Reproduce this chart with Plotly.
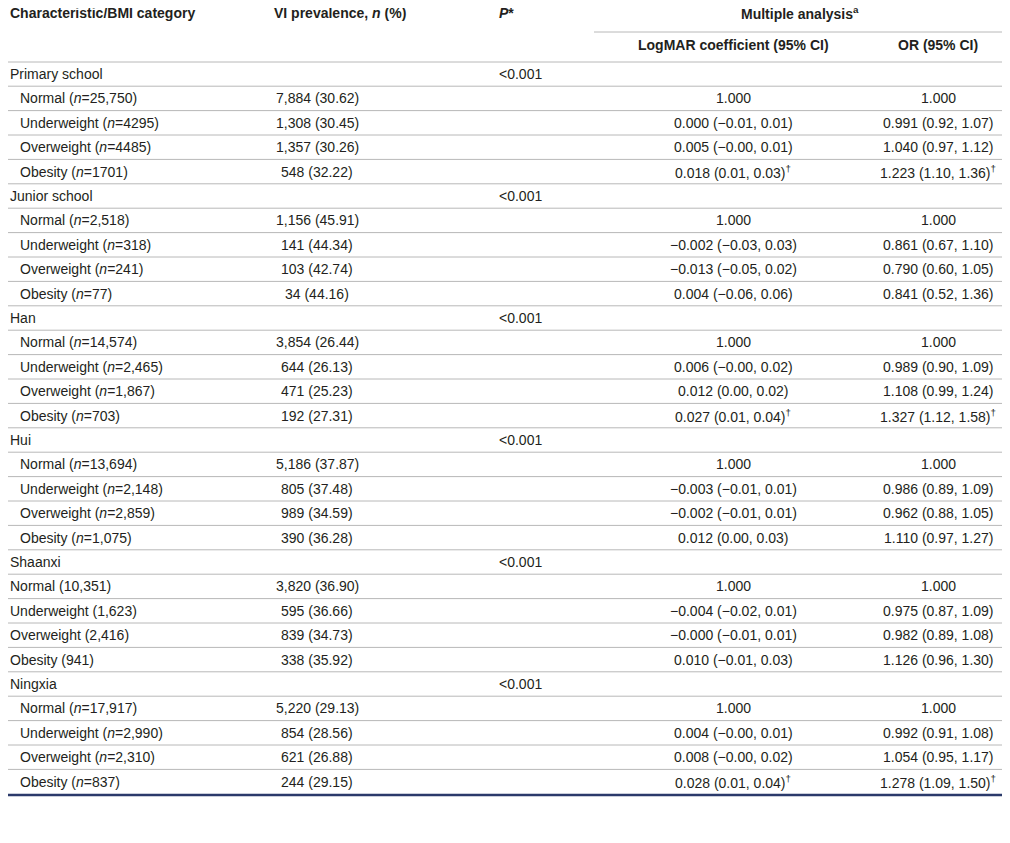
import plotly.graph_objects as go

font_name = "Liberation Sans Narrow, Arial Narrow, sans-serif"
rows = []

groups = [
    ("Primary school", [
        ("Normal (<i>n</i>=25,750)", "7,884 (30.62)", "1.000", "1.000"),
        ("Underweight (<i>n</i>=4295)", "1,308 (30.45)", "0.000 (−0.01, 0.01)", "0.991 (0.92, 1.07)"),
        ("Overweight (<i>n</i>=4485)", "1,357 (30.26)", "0.005 (−0.00, 0.01)", "1.040 (0.97, 1.12)"),
        ("Obesity (<i>n</i>=1701)", "548 (32.22)", "0.018 (0.01, 0.03)<sup>†</sup>", "1.223 (1.10, 1.36)<sup>†</sup>"),
    ]),
    ("Junior school", [
        ("Normal (<i>n</i>=2,518)", "1,156 (45.91)", "1.000", "1.000"),
        ("Underweight (<i>n</i>=318)", "141 (44.34)", "−0.002 (−0.03, 0.03)", "0.861 (0.67, 1.10)"),
        ("Overweight (<i>n</i>=241)", "103 (42.74)", "−0.013 (−0.05, 0.02)", "0.790 (0.60, 1.05)"),
        ("Obesity (<i>n</i>=77)", "34 (44.16)", "0.004 (−0.06, 0.06)", "0.841 (0.52, 1.36)"),
    ]),
    ("Han", [
        ("Normal (<i>n</i>=14,574)", "3,854 (26.44)", "1.000", "1.000"),
        ("Underweight (<i>n</i>=2,465)", "644 (26.13)", "0.006 (−0.00, 0.02)", "0.989 (0.90, 1.09)"),
        ("Overweight (<i>n</i>=1,867)", "471 (25.23)", "0.012 (0.00, 0.02)", "1.108 (0.99, 1.24)"),
        ("Obesity (<i>n</i>=703)", "192 (27.31)", "0.027 (0.01, 0.04)<sup>†</sup>", "1.327 (1.12, 1.58)<sup>†</sup>"),
    ]),
    ("Hui", [
        ("Normal (<i>n</i>=13,694)", "5,186 (37.87)", "1.000", "1.000"),
        ("Underweight (<i>n</i>=2,148)", "805 (37.48)", "−0.003 (−0.01, 0.01)", "0.986 (0.89, 1.09)"),
        ("Overweight (<i>n</i>=2,859)", "989 (34.59)", "−0.002 (−0.01, 0.01)", "0.962 (0.88, 1.05)"),
        ("Obesity (<i>n</i>=1,075)", "390 (36.28)", "0.012 (0.00, 0.03)", "1.110 (0.97, 1.27)"),
    ]),
    ("Shaanxi", [
        ("Normal (10,351)", "3,820 (36.90)", "1.000", "1.000"),
        ("Underweight (1,623)", "595 (36.66)", "−0.004 (−0.02, 0.01)", "0.975 (0.87, 1.09)"),
        ("Overweight (2,416)", "839 (34.73)", "−0.000 (−0.01, 0.01)", "0.982 (0.89, 1.08)"),
        ("Obesity (941)", "338 (35.92)", "0.010 (−0.01, 0.03)", "1.126 (0.96, 1.30)"),
    ]),
    ("Ningxia", [
        ("Normal (<i>n</i>=17,917)", "5,220 (29.13)", "1.000", "1.000"),
        ("Underweight (<i>n</i>=2,990)", "854 (28.56)", "0.004 (−0.00, 0.01)", "0.992 (0.91, 1.08)"),
        ("Overweight (<i>n</i>=2,310)", "621 (26.88)", "0.008 (−0.00, 0.02)", "1.054 (0.95, 1.17)"),
        ("Obesity (<i>n</i>=837)", "244 (29.15)", "0.028 (0.01, 0.04)<sup>†</sup>", "1.278 (1.09, 1.50)<sup>†</sup>"),
    ]),
]

for name, items in groups:
    rows.append((name, "", "<0.001", "", "", False))
    for it in items:
        rows.append(it[:1] + (it[1], "") + it[2:] + (name != "Shaanxi",))


def add_text(fig, x, y, text, anchor="center", bold=False, size=14):
    if bold:
        text = "<b>" + text + "</b>"
    fig.add_annotation(x=x, y=y, text=text, xanchor=anchor, yanchor="middle",
                       showarrow=False, font=dict(family=font_name, size=size, color="#231f20"))


def add_line(fig, x0, x1, y, color="#b8b8b8", width=1):
    fig.add_shape(type="line", x0=x0, x1=x1, y0=y, y1=y, line=dict(color=color, width=width))


fig = go.Figure()

# header
add_line(fig, 0, 1010, 1.5, color="#2b3a6b", width=1.5)
add_text(fig, 8, 13, "Characteristic/BMI category", "left", True)
add_text(fig, 340, 13, "VI prevalence, <i>n</i> (%)", "center", True)
add_text(fig, 497, 13, "<i>P</i>*", "left", True)
add_text(fig, 800, 13, "Multiple analysis<sup>a</sup>", "center", True)
add_line(fig, 594, 1010, 32)
add_text(fig, 733, 45, "LogMAR coefficient (95% CI)", "center", True)
add_text(fig, 938, 45, "OR (95% CI)", "center", True)
add_line(fig, 0, 1010, 62)

step = 24.4
y = 74
for label, vi, p, logmar, orr, indent in rows:
    add_text(fig, 18 if indent else 8, y, label, "left")
    add_text(fig, 317, y, vi)
    add_text(fig, 497, y, p, "left")
    add_text(fig, 733, y, logmar)
    add_text(fig, 938, y, orr)
    if y < 780:
        add_line(fig, 0, 1010, y + step / 2)
    y += step

add_line(fig, 0, 1010, 795, color="#2b3a6b", width=2.5)

# footnotes
foot = ["<sup>a</sup>Variables: age, gender, province, grade level, boarding status at school, parental migration status and parental educational level. *<i>P</i> value of chisquare",
        "distribution. <sup>†</sup>Statistically significant at <i>P</i><0.01. BMI: body mass index, CI: confidence interval, logMAR: logarithm of the minimum angle of resolution,",
        "OR: odds ratio, VI: visual impairment"]
for i, t in enumerate(foot):
    fig.add_annotation(x=3, y=805 + i * 17, text=t, xanchor="left", yanchor="middle", showarrow=False,
                       font=dict(family="Liberation Serif, serif", size=13, color="#231f20"))

fig.update_layout(width=1010, height=843, margin=dict(l=0, r=0, t=0, b=0),
                  plot_bgcolor="white", paper_bgcolor="white", showlegend=False)
fig.update_xaxes(range=[8, 1018], visible=False)  # page body has an 8px margin
fig.update_yaxes(range=[851, 8], visible=False)

fig.write_html("out.html")
